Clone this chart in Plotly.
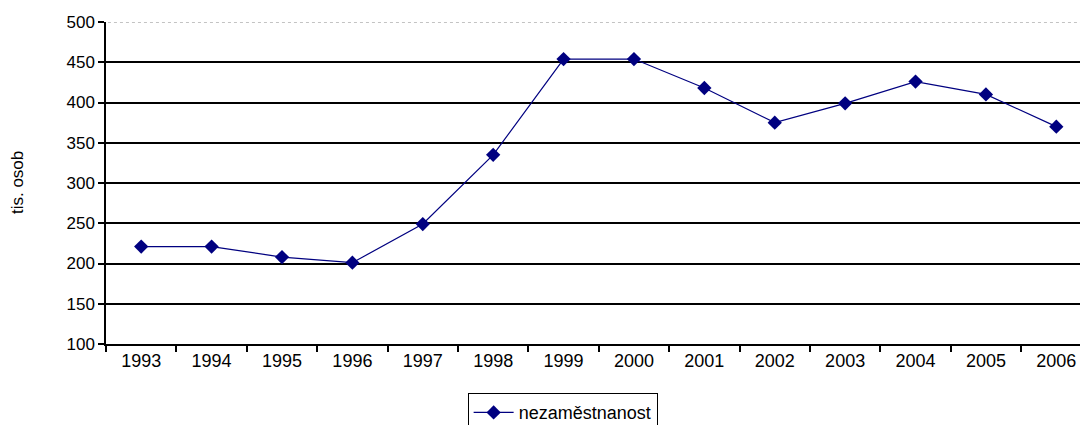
import plotly.graph_objects as go

years = ["1993", "1994", "1995", "1996", "1997", "1998", "1999",
         "2000", "2001", "2002", "2003", "2004", "2005", "2006"]
unemployment = [221, 221, 208, 201, 249, 335, 454, 454, 418, 375, 399, 426, 410, 370]
series_name = "nezaměstnanost"
y_title = "tis. osob"

FONT = "Liberation Sans, Arial, sans-serif"

fig = go.Figure()
fig.add_trace(go.Scatter(
    x=years, y=unemployment, name=series_name, mode="lines+markers",
    line=dict(color="#000080", width=1.2),
    marker=dict(symbol="diamond", size=11, color="#000080"),
))

fig.update_layout(
    width=1080, height=417,
    margin=dict(l=98, r=0, t=14, b=81, autoexpand=False),
    paper_bgcolor="white", plot_bgcolor="white",
    font=dict(family=FONT, size=17, color="black"),
    showlegend=True,
    legend=dict(orientation="h", x=0.465, xanchor="center", y=-0.153, yanchor="top",
                bordercolor="black", borderwidth=1, font=dict(size=18),
                itemwidth=40, tracegroupgap=0),
    xaxis=dict(type="category", range=[-0.5, 13.45], tickson="boundaries",
               ticks="outside", ticklen=6, tickcolor="black", tickwidth=1.5,
               showline=True, linecolor="black", linewidth=1.5,
               showgrid=False, zeroline=False, tickfont=dict(size=18)),
    yaxis=dict(range=[100, 500], dtick=50, ticks="outside", ticklen=6, tickwidth=1.5,
               tickcolor="black", showline=True, linecolor="black", linewidth=1.5,
               showgrid=True, gridcolor="black", gridwidth=1.5, zeroline=False,
               tickfont=dict(size=17)),
    annotations=[dict(text=y_title, xref="paper", yref="paper", x=-0.0906, y=0.5,
                      xanchor="center", yanchor="middle", textangle=-90,
                      showarrow=False, font=dict(size=17))],
)

fig.add_shape(type="line", xref="paper", yref="y", x0=0.002, x1=1, y0=500, y1=500,
              line=dict(color="white", width=2.5))
fig.add_shape(type="line", xref="paper", yref="y", x0=0.002, x1=1, y0=500, y1=500,
              line=dict(color="#888888", width=1, dash="dot"))

fig.write_html("out.html")
